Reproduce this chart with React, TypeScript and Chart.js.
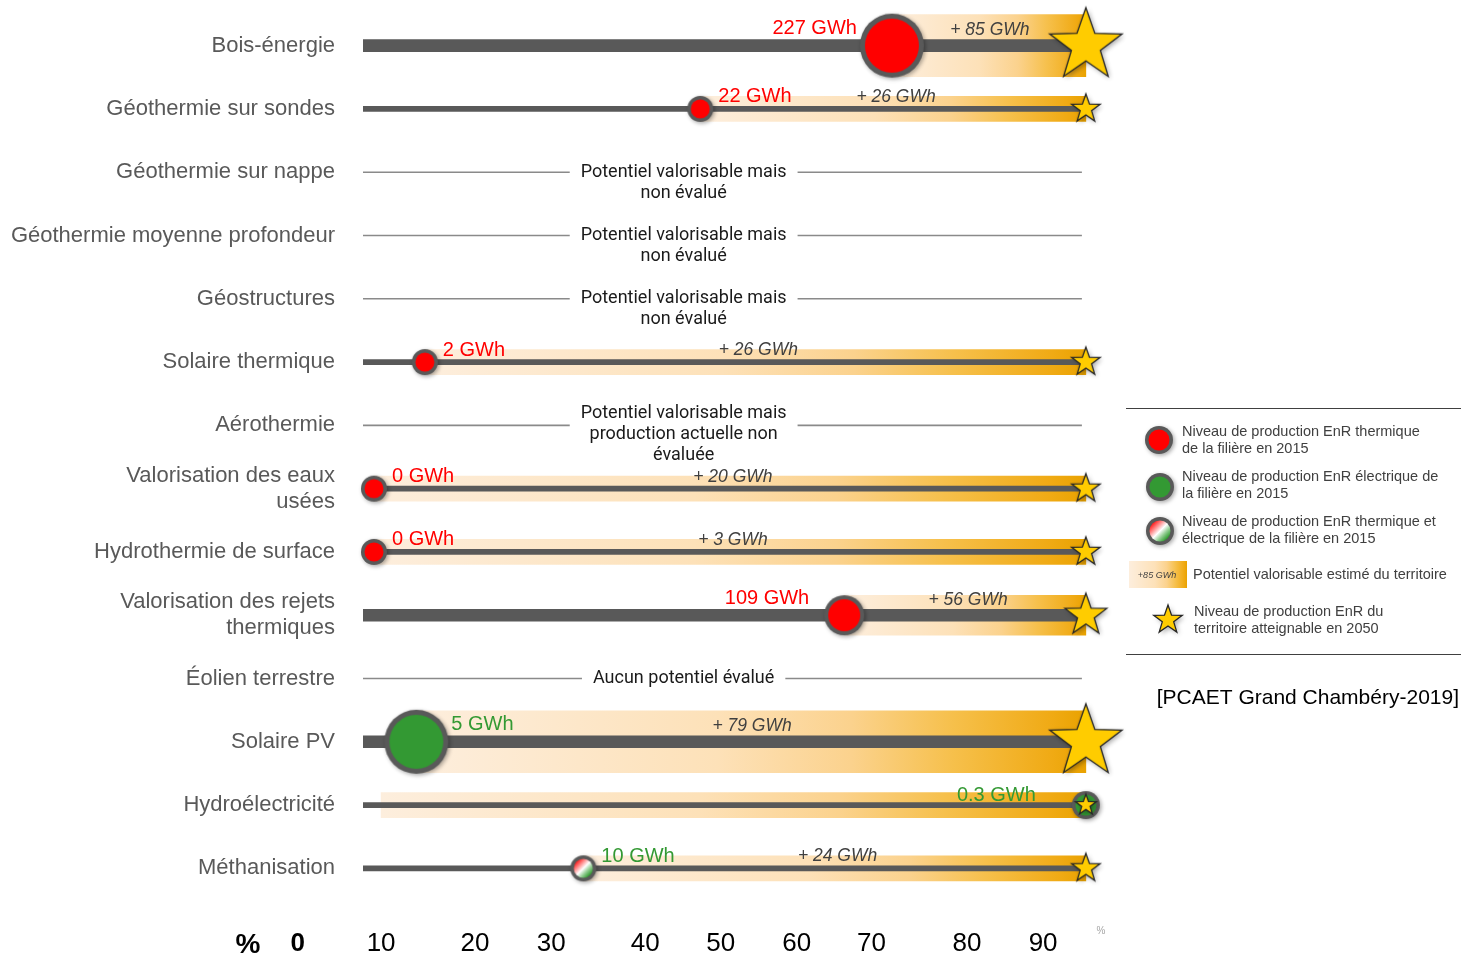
import { useEffect, useRef } from 'react';
import { Chart, registerables } from 'chart.js';

Chart.register(...registerables);

// ---------------- DATA ----------------
const categories: (string | string[])[] = [
  'Bois-énergie',
  'Géothermie sur sondes',
  'Géothermie sur nappe',
  'Géothermie moyenne profondeur',
  'Géostructures',
  'Solaire thermique',
  'Aérothermie',
  ['Valorisation des eaux', 'usées'],
  'Hydrothermie de surface',
  ['Valorisation des rejets', 'thermiques'],
  'Éolien terrestre',
  'Solaire PV',
  'Hydroélectricité',
  'Méthanisation',
];

// production in 2015 (GWh)
const production2015: (number | null)[] = [227, 22, null, null, null, 2, null, 0, 0, 109, null, 5, 0.3, 10];
// additional valorisable potential (GWh)
const potentialAdded: (number | null)[] = [85, 26, null, null, null, 26, null, 20, 3, 56, null, 79, 0, 24];
// th = thermique, el = électrique, mix = thermique et électrique
const energyType: (string | null)[] = ['th', 'th', null, null, null, 'th', null, 'th', 'th', 'th', null, 'el', 'el', 'mix'];

const rowNotes: (string[] | null)[] = [
  null,
  null,
  ['Potentiel valorisable mais', 'non évalué'],
  ['Potentiel valorisable mais', 'non évalué'],
  ['Potentiel valorisable mais', 'non évalué'],
  null,
  ['Potentiel valorisable mais', 'production actuelle non', 'évaluée'],
  null,
  null,
  null,
  ['Aucun potentiel évalué'],
  null,
  null,
  null,
];

// bottom axis labels (as printed in the source, in % of the 2050 level)
const axisTickLabels = ['%', '0', '10', '20', '30', '40', '50', '60', '70', '80', '90'];
const axisTickValues = [-17.7, -10.7, 1.0, 14.2, 24.9, 38.1, 48.7, 59.4, 69.9, 83.3, 94.0];

// ---------------- STYLE ----------------
const rowSizeClass = ['L', 'S', '-', '-', '-', 'S', '-', 'S', 'S', 'M', '-', 'L', 'X', 'S'];
const valueLabelLeft = [true, false, false, false, false, false, false, false, false, true, false, false, true, false];

type Sz = { band: number; line: number; circle: number; border: number; star: number; valDy: number; potDy: number; gap: number };
const SIZES: Record<string, Sz> = {
  L: { band: 62, line: 12, circle: 32, border: 5, star: 38, valDy: 17, potDy: 16, gap: 3 },
  M: { band: 40, line: 12, circle: 20, border: 4, star: 22, valDy: 17, potDy: 15, gap: 15 },
  S: { band: 25, line: 5, circle: 13, border: 3.5, star: 15, valDy: 12, potDy: 12, gap: 5 },
  X: { band: 25, line: 5, circle: 14, border: 3.5, star: 11, valDy: 10, potDy: 12, gap: 36 },
};

const X_MIN = -1.545;
const X_MAX = 104.8;
const LINE_START = -1.545;
const NOTE_LINE_END = 99.4;
const NOTE_CENTER = 43.5;

const GREY = '#595959';
const RED = '#ff0000';
const GREEN = '#339933';
const SANS = '"Liberation Sans", Arial, Helvetica, sans-serif';
const NOTE_FONT_FAMILY = 'Roboto, "Liberation Sans", Arial, sans-serif';

function shareOf(i: number): number {
  const p = production2015[i] ?? 0;
  const a = potentialAdded[i] ?? 0;
  const t = p + a;
  return t > 0 ? (p / t) * 100 : 0;
}
function bandStartOf(i: number): number {
  const s = shareOf(i);
  return s >= 100 ? 1 : s;
}

function addBandStops(g: CanvasGradient) {
  g.addColorStop(0, '#fdeedd');
  g.addColorStop(0.45, '#fde1b8');
  g.addColorStop(0.65, '#fbd28d');
  g.addColorStop(0.8, '#f6c04c');
  g.addColorStop(0.95, '#f0aa14');
  g.addColorStop(1, '#e9a200');
}

function makeCircle(r: number, border: number, kind: string): HTMLCanvasElement {
  const pad = 6;
  const size = Math.ceil((r + pad) * 2);
  const c = document.createElement('canvas');
  c.width = size;
  c.height = size;
  const g = c.getContext('2d')!;
  const cx = size / 2;
  const cy = size / 2;
  g.save();
  g.shadowColor = 'rgba(0,0,0,0.35)';
  g.shadowBlur = 4;
  g.shadowOffsetX = 1.5;
  g.shadowOffsetY = 1.5;
  g.beginPath();
  g.arc(cx, cy, r, 0, Math.PI * 2);
  g.fillStyle = GREY;
  g.fill();
  g.restore();
  let fill: string | CanvasGradient = RED;
  if (kind === 'el') fill = GREEN;
  if (kind === 'mix') {
    const rr = r - border;
    const lg = g.createLinearGradient(cx - rr * 0.7, cy - rr * 0.7, cx + rr * 0.7, cy + rr * 0.7);
    lg.addColorStop(0, '#ff2020');
    lg.addColorStop(0.25, '#ff9090');
    lg.addColorStop(0.5, '#ffffff');
    lg.addColorStop(0.75, '#8fcc8f');
    lg.addColorStop(1, '#2e9a2e');
    fill = lg;
  }
  g.beginPath();
  g.arc(cx, cy, r - border, 0, Math.PI * 2);
  g.fillStyle = fill;
  g.fill();
  return c;
}

function makeStar(R: number): HTMLCanvasElement {
  const pad = 7;
  const size = Math.ceil((R + pad) * 2);
  const c = document.createElement('canvas');
  c.width = size;
  c.height = size;
  const g = c.getContext('2d')!;
  const cx = size / 2;
  const cy = size / 2;
  g.beginPath();
  for (let k = 0; k < 10; k++) {
    const ang = -Math.PI / 2 + (k * Math.PI) / 5;
    const rad = k % 2 === 0 ? R : R * 0.4;
    const x = cx + Math.cos(ang) * rad;
    const y = cy + Math.sin(ang) * rad;
    if (k === 0) g.moveTo(x, y);
    else g.lineTo(x, y);
  }
  g.closePath();
  g.save();
  g.shadowColor = 'rgba(0,0,0,0.35)';
  g.shadowBlur = 5;
  g.shadowOffsetX = 2;
  g.shadowOffsetY = 2;
  g.fillStyle = '#ffcc00';
  g.fill();
  g.restore();
  g.lineWidth = 1.3;
  g.strokeStyle = '#262626';
  g.lineJoin = 'miter';
  g.stroke();
  return c;
}

function fontAvailable(name: string): boolean {
  const c = document.createElement('canvas').getContext('2d')!;
  const s = 'mmmmmmmmmmlli 0123456789';
  c.font = `40px monospace`;
  const a = c.measureText(s).width;
  c.font = `40px "${name}", monospace`;
  const b = c.measureText(s).width;
  c.font = `40px serif`;
  const d = c.measureText(s).width;
  c.font = `40px "${name}", serif`;
  const e = c.measureText(s).width;
  return a !== b || d !== e;
}

export default function App() {
  const ref = useRef<HTMLCanvasElement>(null);

  useEffect(() => {
    const canvas = ref.current;
    if (!canvas) return;

    const narrow = fontAvailable('Liberation Sans Narrow');
    const tickFamily = narrow ? '"Liberation Sans Narrow", "Arial Narrow", sans-serif' : SANS;
    const tickSize = narrow ? 30 : 26;

    const circleImgs = categories.map((_, i) => {
      const cls = rowSizeClass[i];
      if (production2015[i] == null || !SIZES[cls]) return 'circle' as any;
      return makeCircle(SIZES[cls].circle, SIZES[cls].border, energyType[i] || 'th');
    });
    const starImgs = categories.map((_, i) => {
      const cls = rowSizeClass[i];
      if (production2015[i] == null || !SIZES[cls]) return 'circle' as any;
      return makeStar(SIZES[cls].star);
    });

    const bandGradient = (ctx: any) => {
      const chart = ctx.chart;
      const xs = chart.scales?.x;
      if (!xs || ctx.type !== 'data' || !Array.isArray(ctx.raw)) return '#fde3c0';
      const x0 = xs.getPixelForValue(ctx.raw[0]);
      const x1 = xs.getPixelForValue(ctx.raw[1]);
      if (!isFinite(x0) || !isFinite(x1) || x1 <= x0) return '#fde3c0';
      const g = chart.ctx.createLinearGradient(x0, 0, x1, 0);
      addBandStops(g);
      return g;
    };

    const classes = ['L', 'M', 'S', 'X'];
    const bandDatasets = classes.map((c) => ({
      type: 'bar' as const,
      label: 'band' + c,
      data: categories.map((_, i) => (rowSizeClass[i] === c && production2015[i] != null ? [bandStartOf(i), 100] : null)),
      backgroundColor: bandGradient,
      borderWidth: 0,
      barThickness: SIZES[c].band,
      grouped: false,
      order: 40,
    }));
    const lineDatasets = classes.map((c) => ({
      type: 'bar' as const,
      label: 'line' + c,
      data: categories.map((_, i) => (rowSizeClass[i] === c && production2015[i] != null ? [LINE_START, 100] : null)),
      backgroundColor: GREY,
      borderWidth: 0,
      barThickness: SIZES[c].line,
      grouped: false,
      order: 30,
    }));
    const noteLine = {
      type: 'bar' as const,
      label: 'noteLine',
      data: categories.map((_, i) => (rowNotes[i] ? [LINE_START, NOTE_LINE_END] : null)),
      backgroundColor: '#8a8a8a',
      borderWidth: 0,
      barThickness: 1,
      grouped: false,
      order: 30,
    };
    const circles = {
      type: 'line' as const,
      label: 'production 2015',
      data: categories.map((_, i) => (production2015[i] != null ? shareOf(i) : null)),
      showLine: false,
      pointStyle: circleImgs,
      pointRadius: 10,
      pointHoverRadius: 10,
      clip: false as any,
      order: 20,
    };
    const stars = {
      type: 'line' as const,
      label: '2050',
      data: categories.map((_, i) => (production2015[i] != null ? 100 : null)),
      showLine: false,
      pointStyle: starImgs,
      pointRadius: 10,
      pointHoverRadius: 10,
      clip: false as any,
      order: 10,
    };

    const legendRed = makeCircle(14, 3.5, 'th');
    const legendGreen = makeCircle(14, 3.5, 'el');
    const legendMix = makeCircle(14, 3.5, 'mix');
    const legendStar = makeStar(15);

    const overlay = {
      id: 'overlay',
      afterDraw(chart: any) {
        const ctx: CanvasRenderingContext2D = chart.ctx;
        const xs = chart.scales.x;
        const ys = chart.scales.y;
        ctx.save();
        categories.forEach((_, i) => {
          const y = ys.getPixelForValue(i);
          const notes = rowNotes[i];
          if (notes) {
            ctx.font = `18px ${NOTE_FONT_FAMILY}`;
            const cx = xs.getPixelForValue(NOTE_CENTER);
            const w = Math.max(...notes.map((t) => ctx.measureText(t).width)) + 22;
            const n = notes.length;
            const lh = 21;
            const firstY = y - Math.max(0, n - 2) * 12;
            ctx.fillStyle = '#ffffff';
            ctx.fillRect(cx - w / 2, firstY - 11, w, n * lh);
            ctx.fillStyle = '#1a1a1a';
            ctx.textAlign = 'center';
            ctx.textBaseline = 'middle';
            notes.forEach((t, k) => ctx.fillText(t, cx, firstY + k * lh));
          }
          const p = production2015[i];
          const sz = SIZES[rowSizeClass[i]];
          if (p == null || !sz) return;
          const px = xs.getPixelForValue(shareOf(i));
          ctx.font = `20px ${SANS}`;
          ctx.fillStyle = energyType[i] === 'th' ? RED : GREEN;
          ctx.textBaseline = 'middle';
          const label = `${p} GWh`;
          if (valueLabelLeft[i]) {
            ctx.textAlign = 'right';
            ctx.fillText(label, px - sz.circle - sz.gap, y - sz.valDy);
          } else {
            ctx.textAlign = 'left';
            ctx.fillText(label, px + sz.circle + sz.gap, y - sz.valDy);
          }
          const a = potentialAdded[i];
          if (a) {
            const starLeft = xs.getPixelForValue(100) - sz.star;
            const mid = (px + sz.circle + starLeft) / 2;
            ctx.font = `italic 17.5px ${SANS}`;
            ctx.fillStyle = '#404040';
            ctx.textAlign = 'center';
            ctx.fillText(`+ ${a} GWh`, mid + 4, y - sz.potDy);
          }
        });

        // small "%" at the end of the axis
        ctx.font = `10px ${SANS}`;
        ctx.fillStyle = '#a6a6a6';
        ctx.textAlign = 'center';
        ctx.textBaseline = 'middle';
        ctx.fillText('%', 1101, 931);

        // ---- legend ----
        ctx.strokeStyle = '#404040';
        ctx.lineWidth = 1.2;
        ctx.beginPath();
        ctx.moveTo(1126, 408.5);
        ctx.lineTo(1461, 408.5);
        ctx.moveTo(1126, 654.5);
        ctx.lineTo(1461, 654.5);
        ctx.stroke();

        const drawImg = (img: HTMLCanvasElement, x: number, y: number) => ctx.drawImage(img, x - img.width / 2, y - img.height / 2);
        drawImg(legendRed, 1159, 440);
        drawImg(legendGreen, 1160, 487);
        drawImg(legendMix, 1160, 531);
        drawImg(legendStar, 1168, 620);

        const sg = ctx.createLinearGradient(1129, 0, 1187, 0);
        addBandStops(sg);
        ctx.fillStyle = sg;
        ctx.fillRect(1129, 561, 58, 27);
        ctx.font = `italic 9px ${SANS}`;
        ctx.fillStyle = '#404040';
        ctx.textAlign = 'center';
        ctx.fillText('+85 GWh', 1157, 575);

        ctx.font = `14.5px ${SANS}`;
        ctx.fillStyle = '#404040';
        ctx.textAlign = 'left';
        const legendLines: [string, number, number][] = [
          ['Niveau de production EnR thermique', 1182, 432],
          ['de la filière en 2015', 1182, 449],
          ['Niveau de production EnR électrique de', 1182, 477],
          ['la filière en 2015', 1182, 494],
          ['Niveau de production EnR thermique et', 1182, 522],
          ['électrique de la filière en 2015', 1182, 539],
          ['Potentiel valorisable estimé du territoire', 1193, 575],
          ['Niveau de production EnR du', 1194, 612],
          ['territoire atteignable en 2050', 1194, 629],
        ];
        legendLines.forEach(([t, x, yy]) => ctx.fillText(t, x, yy));

        ctx.font = `21px ${SANS}`;
        ctx.fillStyle = '#000000';
        ctx.textAlign = 'right';
        ctx.fillText('[PCAET Grand Chambéry-2019]', 1459, 698);
        ctx.restore();
      },
    };

    const chart = new Chart(canvas, {
      type: 'bar',
      data: {
        labels: categories as any,
        datasets: [...bandDatasets, ...lineDatasets, noteLine, circles, stars] as any,
      },
      options: {
        indexAxis: 'y',
        responsive: false,
        maintainAspectRatio: false,
        animation: false,
        events: [],
        layout: { padding: { left: 0, right: 341, top: 14, bottom: 0 } },
        plugins: { legend: { display: false }, tooltip: { enabled: false } },
        scales: {
          x: {
            type: 'linear',
            min: X_MIN,
            max: X_MAX,
            grid: { display: false, drawTicks: false },
            border: { display: false },
            afterBuildTicks: (scale: any) => {
              scale.ticks = axisTickValues.map((v) => ({ value: v }));
            },
            afterFit: (scale: any) => {
              scale.height = 54;
              scale.paddingLeft = 0;
              scale.paddingRight = 0;
            },
            ticks: {
              autoSkip: false,
              maxRotation: 0,
              minRotation: 0,
              padding: 28,
              color: '#000000',
              callback: (_v: any, idx: number) => axisTickLabels[idx],
              font: (c: any) =>
                c.index === 0
                  ? { family: SANS, size: 28, weight: 'bold' }
                  : c.index === 1
                  ? { family: tickFamily, size: tickSize, weight: 'bold' }
                  : { family: tickFamily, size: tickSize, weight: 'normal' },
            },
          },
          y: {
            type: 'category',
            grid: { display: false, drawTicks: false },
            border: { display: false },
            afterFit: (scale: any) => {
              scale.width = 363;
              scale.paddingTop = 0;
              scale.paddingBottom = 0;
            },
            ticks: {
              padding: 28,
              color: GREY,
              font: { family: SANS, size: 22 },
            },
          },
        },
      },
      plugins: [overlay],
    } as any);

    return () => chart.destroy();
  }, []);

  return (
    <div style={{ position: 'fixed', left: 0, top: 0, width: 1461, height: 954, background: '#ffffff' }}>
      <canvas ref={ref} width={1461} height={954} style={{ width: 1461, height: 954, display: 'block' }} />
    </div>
  );
}
